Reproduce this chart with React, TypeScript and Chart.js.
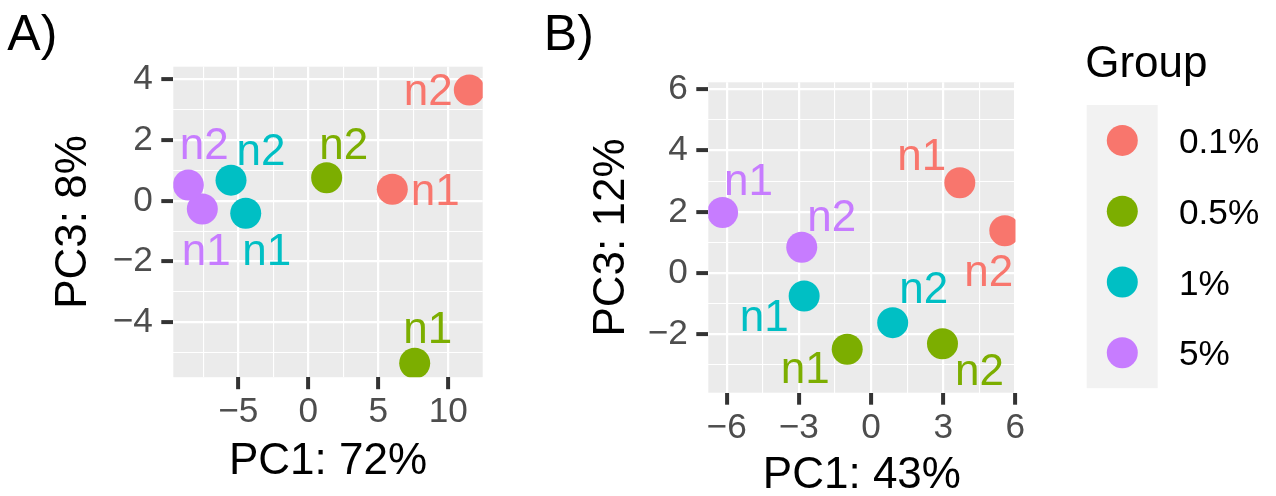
import React, { useEffect, useRef } from 'react';
import { Chart, registerables } from 'chart.js';

Chart.register(...registerables);

const FONT = "'Liberation Sans', Arial, Helvetica, sans-serif";

// ---------------- data ----------------
const groups = ['0.1%', '0.5%', '1%', '5%'];
const groupColors = ['#F8766D', '#7CAE00', '#00BFC4', '#C77CFF'];
const sampleGroup = ['0.1%', '0.1%', '0.5%', '0.5%', '1%', '1%', '5%', '5%'];
const sampleNames = ['n1', 'n2', 'n1', 'n2', 'n1', 'n2', 'n1', 'n2'];

// Panel A: PC1 (72%) vs PC3 (8%)
const panelA_PC1 = [6.0, 11.5, 7.6, 1.31, -4.47, -5.52, -7.57, -8.57];
const panelA_PC3 = [0.38, 3.65, -5.35, 0.76, -0.41, 0.68, -0.27, 0.52];
// Panel B: PC1 (43%) vs PC3 (12%)
const panelB_PC1 = [3.69, 5.56, -0.99, 2.97, -2.78, 0.9, -6.17, -2.88];
const panelB_PC3 = [2.95, 1.38, -2.49, -2.31, -0.75, -1.62, 1.98, 0.84];

// tick values
const panelA_xMajor = [-5, 0, 5, 10];
const panelA_xMinor = [-7.5, -2.5, 2.5, 7.5];
const panelA_yMajor = [-4, -2, 0, 2, 4];
const panelA_yMinor = [-5, -3, -1, 1, 3];
const panelB_xMajor = [-6, -3, 0, 3, 6];
const panelB_xMinor = [-4.5, -1.5, 1.5, 4.5];
const panelB_yMajor = [-2, 0, 2, 4, 6];
const panelB_yMinor = [-3, -1, 1, 3, 5];

// text-label offsets (px, label centre relative to point centre)
const panelA_labelDx = [43, -41, 13, 17, 21, 30, 4, 16];
const panelA_labelDy = [0, -1, -36, -34, 36, -31, 40, -42];
const panelB_labelDx = [-38, -16, -42, 37, -40, 31, 26, 30];
const panelB_labelDy = [-28, 39, 18, 25, 19, -35, -33, -32];

const fmt = (v: number) => (v < 0 ? '\u2212' + Math.abs(v) : String(v));

interface PanelCfg {
  tag: string;
  tagX: number;
  tagY: number;
  pc1: number[];
  pc3: number[];
  dx: number[];
  dy: number[];
  xTitle: string;
  yTitle: string;
  xMin: number;
  xMax: number;
  yMin: number;
  yMax: number;
  xMajor: number[];
  xMinor: number[];
  yMajor: number[];
  yMinor: number[];
  area: { left: number; top: number; right: number; bottom: number };
  width: number;
  height: number;
  yTitlePad: number;
  xTitlePad: number;
  legend: boolean;
}

function makePlugin(p: PanelCfg, idxByGroup: number[][]) {
  return {
    id: 'panelDecor',
    beforeDraw(chart: any) {
      const { ctx, chartArea: ca } = chart;
      ctx.save();
      ctx.fillStyle = '#EBEBEB';
      ctx.fillRect(ca.left, ca.top, ca.right - ca.left, ca.bottom - ca.top);
      ctx.restore();
    },
    afterDatasetsDraw(chart: any) {
      const { ctx, chartArea: ca } = chart;
      ctx.save();
      ctx.beginPath();
      ctx.rect(ca.left, ca.top, ca.right - ca.left, ca.bottom - ca.top);
      ctx.clip();
      const fs = 44;
      ctx.font = `${fs}px ${FONT}`;
      ctx.textAlign = 'center';
      ctx.textBaseline = 'alphabetic';
      groups.forEach((g, gi) => {
        const meta = chart.getDatasetMeta(gi);
        idxByGroup[gi].forEach((si, j) => {
          const el = meta.data[j];
          if (!el) return;
          ctx.fillStyle = groupColors[gi];
          ctx.fillText(sampleNames[si], el.x + p.dx[si], el.y + p.dy[si] + fs * 0.358);
        });
      });
      ctx.restore();
    },
    afterDraw(chart: any) {
      const { ctx } = chart;
      ctx.save();
      ctx.fillStyle = '#000000';
      ctx.textAlign = 'left';
      ctx.textBaseline = 'alphabetic';
      ctx.font = `50px ${FONT}`;
      ctx.fillText(p.tag, p.tagX, p.tagY);
      if (p.legend) {
        const lx = 546.7;
        const top = 105;
        const keyH = 70.8;
        ctx.font = `44px ${FONT}`;
        ctx.fillText('Group', lx - 1.5, 76.5);
        ctx.fillStyle = '#F2F2F2';
        ctx.fillRect(lx, top, 71, keyH * groups.length);
        ctx.font = `35.2px ${FONT}`;
        groups.forEach((g, gi) => {
          const cy = top + keyH * (gi + 0.5);
          ctx.fillStyle = groupColors[gi];
          ctx.beginPath();
          ctx.arc(lx + 35.6, cy, 15.5, 0, Math.PI * 2);
          ctx.fill();
          ctx.fillStyle = '#000000';
          ctx.fillText(g, 639, cy + 35.2 * 0.358);
        });
      }
      ctx.restore();
    },
  };
}

function buildChart(canvas: HTMLCanvasElement, p: PanelCfg) {
  const idxByGroup = groups.map((g) =>
    sampleGroup.map((s, i) => (s === g ? i : -1)).filter((i) => i >= 0)
  );
  const datasets = groups.map((g, gi) => ({
    label: g,
    data: idxByGroup[gi].map((i) => ({ x: p.pc1[i], y: p.pc3[i] })),
    backgroundColor: groupColors[gi],
    borderWidth: 0,
    pointRadius: 15.5,
    pointHoverRadius: 15.5,
    clip: 0,
  }));

  const axis = (major: number[], minor: number[], min: number, max: number, horizontal: boolean, title: string, titlePad: any, fitSize: number) => ({
    type: 'linear' as const,
    position: horizontal ? ('bottom' as const) : ('left' as const),
    min,
    max,
    afterBuildTicks: (s: any) => {
      s.ticks = [...major, ...minor].sort((a, b) => a - b).map((v) => ({ value: v }));
    },
    afterFit: (s: any) => {
      if (horizontal) s.height = fitSize;
      else s.width = fitSize;
    },
    border: { display: false },
    grid: {
      color: '#FFFFFF',
      lineWidth: (c: any) => (c.tick && major.includes(c.tick.value) ? 2.2 : 1.1),
      drawTicks: true,
      tickLength: 12,
      tickColor: (c: any) => (c.tick && major.includes(c.tick.value) ? '#333333' : 'rgba(0,0,0,0)'),
      tickWidth: (c: any) => (c.tick && major.includes(c.tick.value) ? 4 : 0),
    },
    ticks: {
      autoSkip: false,
      maxRotation: 0,
      minRotation: 0,
      padding: horizontal ? 2 : 8.5,
      color: '#4D4D4D',
      font: { family: FONT, size: 35.2 },
      callback: (v: any) => (major.includes(Number(v)) ? fmt(Number(v)) : ''),
    },
    title: {
      display: true,
      text: title,
      color: '#000000',
      font: { family: FONT, size: 44, lineHeight: 0.9 },
      padding: titlePad,
    },
  });

  return new Chart(canvas, {
    type: 'scatter',
    data: { datasets },
    plugins: [makePlugin(p, idxByGroup)],
    options: {
      responsive: false,
      animation: false,
      events: [],
      devicePixelRatio: 1,
      layout: {
        padding: { left: 0, top: p.area.top, right: p.width - p.area.right, bottom: 0 },
      },
      plugins: {
        legend: { display: false },
        tooltip: { enabled: false },
      },
      scales: {
        x: axis(p.xMajor, p.xMinor, p.xMin, p.xMax, true, p.xTitle, { top: 0, bottom: p.xTitlePad }, p.height - p.area.bottom),
        y: axis(p.yMajor, p.yMinor, p.yMin, p.yMax, false, p.yTitle, { top: p.yTitlePad, bottom: 0 }, p.area.left),
      },
    } as any,
  });
}

const panelA: PanelCfg = {
  tag: 'A)',
  tagX: 7.3,
  tagY: 49.5,
  pc1: panelA_PC1,
  pc3: panelA_PC3,
  dx: panelA_labelDx,
  dy: panelA_labelDy,
  xTitle: 'PC1: 72%',
  yTitle: 'PC3: 8%',
  xMin: -9.643,
  xMax: 12.457,
  yMin: -5.807,
  yMax: 4.415,
  xMajor: panelA_xMajor,
  xMinor: panelA_xMinor,
  yMajor: panelA_yMajor,
  yMinor: panelA_yMinor,
  area: { left: 173.3, top: 66.7, right: 482.7, bottom: 377.2 },
  width: 540,
  height: 496,
  yTitlePad: 54.3,
  xTitlePad: 14.7,
  legend: false,
};

const panelB: PanelCfg = {
  tag: 'B)',
  tagX: 3.8,
  tagY: 50,
  pc1: panelB_PC1,
  pc3: panelB_PC3,
  dx: panelB_labelDx,
  dy: panelB_labelDy,
  xTitle: 'PC1: 43%',
  yTitle: 'PC3: 12%',
  xMin: -6.764,
  xMax: 6.005,
  yMin: -3.907,
  yMax: 6.229,
  xMajor: panelB_xMajor,
  xMinor: panelB_xMinor,
  yMajor: panelB_yMajor,
  yMinor: panelB_yMinor,
  area: { left: 168.3, top: 82.3, right: 475.5, bottom: 392.7 },
  width: 736,
  height: 496,
  yTitlePad: 52.3,
  xTitlePad: 0.4,
  legend: true,
};

export default function App() {
  const refA = useRef<HTMLCanvasElement>(null);
  const refB = useRef<HTMLCanvasElement>(null);

  useEffect(() => {
    const charts: Chart[] = [];
    if (refA.current) charts.push(buildChart(refA.current, panelA));
    if (refB.current) charts.push(buildChart(refB.current, panelB));
    return () => charts.forEach((c) => c.destroy());
  }, []);

  return (
    <div style={{ position: 'absolute', left: 0, top: 0, width: 1276, height: 496, background: '#FFFFFF', overflow: 'hidden' }}>
      <canvas ref={refA} width={540} height={496} style={{ position: 'absolute', left: 0, top: 0, display: 'block' }} />
      <canvas ref={refB} width={736} height={496} style={{ position: 'absolute', left: 540, top: 0, display: 'block' }} />
    </div>
  );
}
